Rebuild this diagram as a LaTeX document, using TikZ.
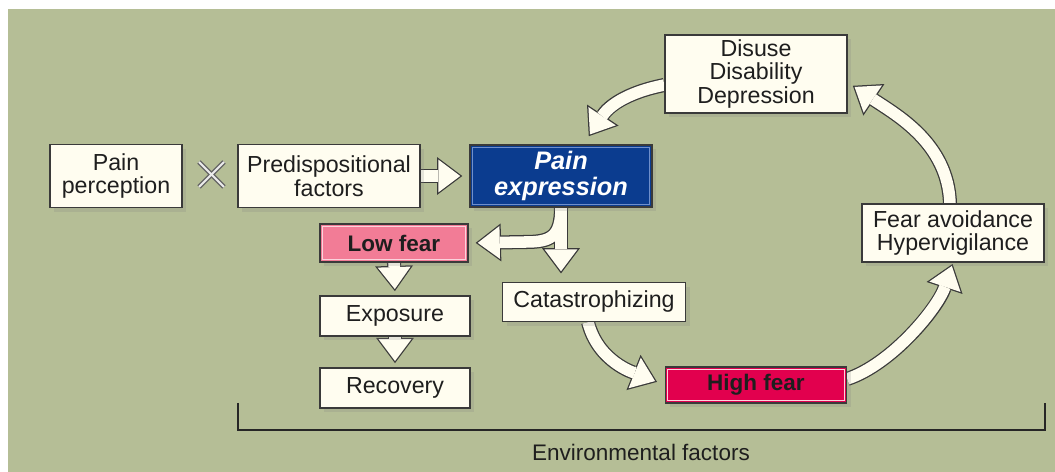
\documentclass[tikz,border=0pt]{standalone}
\usepackage{fontspec}
\setmainfont{Liberation Sans}
\usetikzlibrary{arrows.meta,shadows,backgrounds,calc}
\definecolor{bgc}{HTML}{B5BE96}
\definecolor{cream}{HTML}{FFFDF0}
\definecolor{edgec}{HTML}{3A3A3A}
\definecolor{txtc}{HTML}{1E1E1E}
\definecolor{peblue}{HTML}{0B3C8F}
\definecolor{peframe}{HTML}{6F8FCB}
\definecolor{lowpink}{HTML}{F27C96}
\definecolor{highred}{HTML}{E2004E}
\definecolor{pinkframe}{HTML}{FBD3DC}
\tikzset{
  box/.style={draw=edgec, line width=0.9pt, fill=cream, align=center, text=txtc,
    font=\fontsize{16.5}{17}\selectfont, inner sep=2pt,
    drop shadow={shadow xshift=3pt, shadow yshift=-3pt, opacity=0.2}},
  fatout/.style={draw=edgec, line width=10pt, -{Triangle[length=18pt, width=27pt, line width=0pt]}},
  fatin/.style={draw=cream, line width=8.2pt, -{Triangle[length=15.6pt, width=23.4pt, line width=0pt]}},
}
\begin{document}
\begin{tikzpicture}[x=0.025cm, y=-0.025cm]
  \useasboundingbox (0,0) rectangle (1055,472);
  % nodes
  \node[box, minimum width=3.3cm, minimum height=1.575cm] (pp) at (116,176) {Pain\\perception};
  \node[box, minimum width=4.55cm, minimum height=1.575cm] (pf) at (329,176) {Predispositional\\factors};
  \node[box, minimum width=4.55cm, minimum height=1.55cm, fill=peblue, text=white,
    font=\fontsize{18}{18.5}\selectfont\bfseries\itshape] (pe) at (561,176) {Pain\\expression};
  \node[box, minimum width=4.55cm, minimum height=1.95cm] (dd) at (756,74) {Disuse\\Disability\\Depression};
  \node[box, minimum width=3.7cm, minimum height=0.95cm, fill=lowpink,
    font=\fontsize{16}{16.5}\selectfont\bfseries] (lf) at (394,243) {Low fear};
  \node[box, minimum width=3.75cm, minimum height=1cm] (ex) at (395,316) {Exposure};
  \node[box, minimum width=3.75cm, minimum height=1cm] (re) at (395,388) {Recovery};
  \node[box, minimum width=4.575cm, minimum height=0.975cm] (ca) at (594,302) {Catastrophizing};
  \node[box, minimum width=4.525cm, minimum height=0.9cm, fill=highred,
    font=\fontsize{16}{16.5}\selectfont\bfseries] (hf) at (756,385) {High fear};
  \node[box, minimum width=4.55cm, minimum height=1.45cm] (fa) at (953,233) {Fear avoidance\\Hypervigilance};
  \node[text=txtc, font=\fontsize{16}{17}\selectfont] (env) at (641,452) {Environmental factors};
  \foreach \n/\c in {pe/peframe, lf/pinkframe, hf/pinkframe}
    \draw[\c, line width=0.6pt] ([shift={(3,3)}]\n.north west) rectangle ([shift={(-3,-3)}]\n.south east);
  % background and arrows
  \begin{pgfonlayer}{background}
    \fill[white] (0,0) rectangle (1055,472);
    \fill[bgc] (8,9) rectangle (1055,472);
    \foreach \pass/\sh in {fatout/0pt, fatin/1.5pt} {
      \draw[\pass, shorten >=5pt+\sh] (pf.east) -- (pe.west);
      \draw[\pass, shorten >=5pt+\sh] (pe.south) .. controls +(0,30) and +(25,0) .. (525,242) -- (lf.east);
      \draw[\pass, shorten >=6pt+\sh] (pe.south) -- (pe.south |- ca.north);
      \draw[\pass, shorten >=3pt+\sh] (lf.south) -- (ex.north);
      \draw[\pass, shorten >=3pt+\sh] (ex.south) -- (re.north);
      \draw[\pass, shorten >=6pt+\sh] ($(ca.south)+(-6,0)$) .. controls +(10,40) and +(-30,-12) .. (hf.west);
      \draw[\pass, shorten >=1pt+\sh] ($(hf.east)+(0,-6)$) .. controls +(45,-15) and +(-15,45) .. (fa.south);
      \draw[\pass, shorten >=1pt+\sh] ($(fa.north)+(-3,0)$) .. controls +(-2,-60) and +(45,30) .. ($(dd.east)+(4,11)$);
      \draw[\pass, shorten >=1pt+\sh] ($(dd.west)+(0,11)$) .. controls +(-40,8) and +(20,-30) .. ($(pe.north)+(27,-7)$);
    }
  \end{pgfonlayer}
  % times sign
  \foreach \w/\c in {3.5pt/gray!80!black, 1.4pt/white!85!gray}
    \draw[line width=\w, \c] (199,162) -- (224,187) (199,187) -- (224,162);
  % bracket
  \draw[line width=1.8pt, black!85] (238,403) -- (238,430) -- (1045,430) -- (1045,403);
\end{tikzpicture}
\end{document}
